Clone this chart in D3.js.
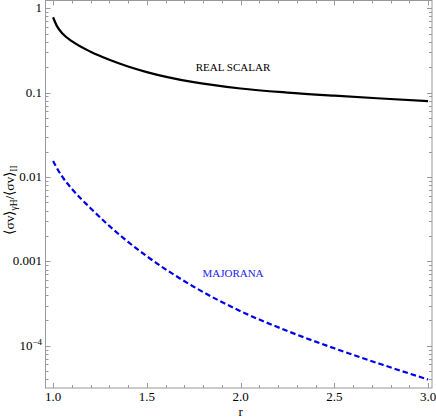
<!DOCTYPE html>
<html>
<head>
<meta charset="utf-8">
<script src="https://cdn.jsdelivr.net/npm/d3@7"></script>
<style>
  body { margin: 0; background: #fff; }
</style>
</head>
<body>
<script>
// r values and the two ratio curves
var rValues = [1.0, 1.02, 1.05, 1.1, 1.2, 1.3, 1.4, 1.5, 1.75, 2.0, 2.25, 2.5, 2.75, 3.0];
var realScalar = [0.78, 0.617, 0.50, 0.407, 0.305, 0.245, 0.204, 0.175, 0.1327, 0.1117, 0.100, 0.0918, 0.0851, 0.0793];
var majorana = [0.0155, 0.0128, 0.0100, 0.00724, 0.00427, 0.00263, 0.00170, 0.00115, 0.000501, 0.000257, 0.0001496, 0.0000933, 0.0000603, 0.0000398];

var xTicks = [1.0, 1.5, 2.0, 2.5, 3.0];
var yTicks = [1, 0.1, 0.01, 0.001, 1e-4];
var yTickLabels = ["1", "0.1", "0.01", "0.001", "10^-4"];

var W = 436, H = 419;
var svg = d3.select("body").append("svg")
    .attr("width", W)
    .attr("height", H)
    .attr("font-family", "'Liberation Serif', 'Times New Roman', serif");

var x = d3.scaleLinear().domain([0.957, 3.021]).range([45, 432]);
var y = d3.scaleLog().domain([3.16e-5, 1.25]).range([388, 0]);

var frameColor = "#999";

// frame
svg.append("rect")
    .attr("x", 45.5).attr("y", 0.5)
    .attr("width", 386.5).attr("height", 387.5)
    .attr("fill", "none")
    .attr("stroke", frameColor)
    .attr("stroke-width", 1);

// x ticks (bottom + top)
var xMinor = d3.range(10, 31).map(function (d) { return d / 10; });
xMinor.forEach(function (v) {
  var major = xTicks.some(function (t) { return Math.abs(t - v) < 1e-9; });
  var len = major ? 5 : 3;
  var px = Math.round(x(v)) + 0.5;
  svg.append("line").attr("x1", px).attr("x2", px).attr("y1", 388).attr("y2", 388 - len)
    .attr("stroke", frameColor);
  svg.append("line").attr("x1", px).attr("x2", px).attr("y1", 0.5).attr("y2", 0.5 + len)
    .attr("stroke", frameColor);
});

svg.selectAll(".xlab")
  .data(xTicks)
  .enter()
  .append("text")
  .attr("x", function (d) { return x(d); })
  .attr("y", 401)
  .attr("text-anchor", "middle")
  .style("font-size", "13px")
  .text(function (d) { return d.toFixed(1); });

// y ticks (left + right)
var yMinor = [];
[1e-5, 1e-4, 1e-3, 1e-2, 1e-1, 1].forEach(function (dec) {
  for (var k = 1; k < 10; k++) {
    var v = dec * k;
    if (v >= 3.16e-5 && v <= 1.25) yMinor.push({ v: v, major: k === 1 });
  }
});
yMinor.forEach(function (t) {
  var len = t.major ? 5 : 3;
  var py = Math.round(y(t.v)) + 0.5;
  svg.append("line").attr("x1", 45.5).attr("x2", 45.5 + len).attr("y1", py).attr("y2", py)
    .attr("stroke", frameColor);
  svg.append("line").attr("x1", 432).attr("x2", 432 - len).attr("y1", py).attr("y2", py)
    .attr("stroke", frameColor);
});

yTicks.forEach(function (v, i) {
  var t = svg.append("text")
    .attr("x", 42)
    .attr("y", y(v) + 4)
    .attr("text-anchor", "end")
    .style("font-size", "13px");
  var lab = yTickLabels[i];
  if (lab.indexOf("^") > 0) {
    var parts = lab.split("^");
    t.append("tspan").text(parts[0]);
    t.append("tspan").attr("dy", -5).style("font-size", "9px").text(parts[1].replace("-", "\u2212"));
  } else {
    t.text(lab);
  }
});

// axis labels
svg.append("text")
  .attr("x", x(2.0))
  .attr("y", 416)
  .attr("text-anchor", "middle")
  .style("font-size", "13px")
  .text("r");

var yl = svg.append("text")
  .attr("transform", "translate(14,200) rotate(-90)")
  .attr("text-anchor", "middle")
  .style("font-size", "13.5px");
yl.append("tspan").text("\u27E8\u03C3v\u27E9");
yl.append("tspan").attr("dy", 3).style("font-size", "9.5px").text("\u03B3H");
yl.append("tspan").attr("dy", -3).text("/\u27E8\u03C3v\u27E9");
yl.append("tspan").attr("dy", 3).style("font-size", "9.5px").text("II");

// curves
var line = d3.line()
  .x(function (d) { return x(d[0]); })
  .y(function (d) { return y(d[1]); })
  .curve(d3.curveMonotoneX);

svg.append("path")
  .datum(rValues.map(function (r, i) { return [r, realScalar[i]]; }))
  .attr("d", line)
  .attr("fill", "none")
  .attr("stroke", "#000")
  .attr("stroke-width", 2.2);

svg.append("path")
  .datum(rValues.map(function (r, i) { return [r, majorana[i]]; }))
  .attr("d", line)
  .attr("fill", "none")
  .attr("stroke", "#0000ee")
  .attr("stroke-width", 2.2)
  .attr("stroke-dasharray", "5.5,3");

// curve labels
svg.append("text")
  .attr("x", 233).attr("y", 71)
  .attr("text-anchor", "middle")
  .style("font-size", "11px")
  .text("REAL SCALAR");

svg.append("text")
  .attr("x", 233).attr("y", 277)
  .attr("text-anchor", "middle")
  .style("font-size", "11px")
  .attr("fill", "#2222ee")
  .text("MAJORANA");
</script>
</body>
</html>
